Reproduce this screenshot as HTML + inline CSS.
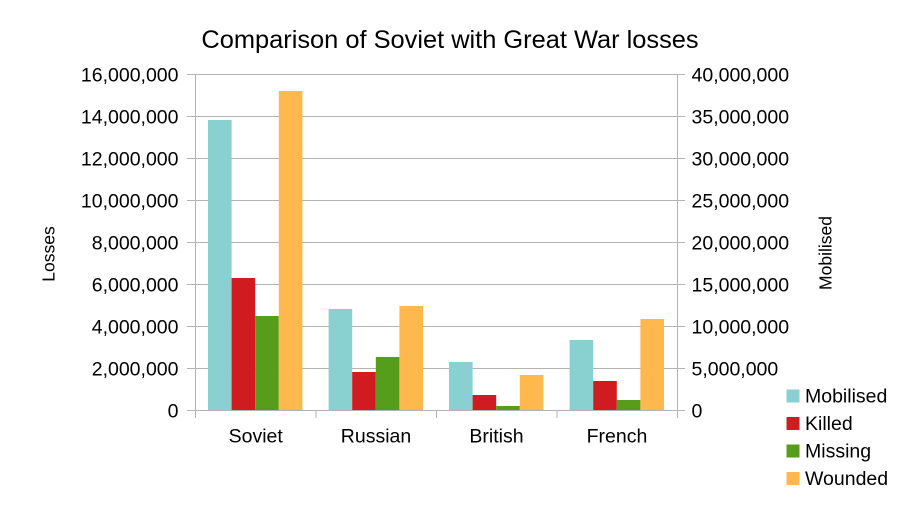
<!DOCTYPE html>
<html>
<head>
<meta charset="utf-8">
<style>
html,body{margin:0;padding:0;background:#fff;}
svg{display:block;}
text{font-family:"Liberation Sans",Arial,sans-serif;fill:#000;}
</style>
</head>
<body>
<svg width="907" height="510" viewBox="0 0 907 510" xmlns="http://www.w3.org/2000/svg">
<rect width="907" height="510" fill="#fff"/>
<text x="450" y="48" font-size="25.4" text-anchor="middle">Comparison of Soviet with Great War losses</text>

<!-- gridlines -->
<g stroke="#b3b3b3" stroke-width="1">
<line x1="187" y1="74.5" x2="685" y2="74.5"/>
<line x1="187" y1="116.5" x2="685" y2="116.5"/>
<line x1="187" y1="158.5" x2="685" y2="158.5"/>
<line x1="187" y1="200.5" x2="685" y2="200.5"/>
<line x1="187" y1="242.5" x2="685" y2="242.5"/>
<line x1="187" y1="284.5" x2="685" y2="284.5"/>
<line x1="187" y1="326.5" x2="685" y2="326.5"/>
<line x1="187" y1="368.5" x2="685" y2="368.5"/>
<line x1="187" y1="410.5" x2="685" y2="410.5"/>
<line x1="195.5" y1="74" x2="195.5" y2="418"/>
<line x1="677.5" y1="74" x2="677.5" y2="418"/>
<line x1="316" y1="410" x2="316" y2="418"/>
<line x1="436.5" y1="410" x2="436.5" y2="418"/>
<line x1="557" y1="410" x2="557" y2="418"/>
</g>

<!-- bars -->
<g>
<rect x="208" y="120" width="23.6" height="290" fill="#89d0d0"/>
<rect x="231.6" y="278" width="23.6" height="132" fill="#d01b20"/>
<rect x="255.2" y="316" width="23.6" height="94" fill="#579d1c"/>
<rect x="278.8" y="91" width="23.6" height="319" fill="#ffb84d"/>

<rect x="328.6" y="309" width="23.6" height="101" fill="#89d0d0"/>
<rect x="352.2" y="372" width="23.6" height="38" fill="#d01b20"/>
<rect x="375.8" y="357" width="23.6" height="53" fill="#579d1c"/>
<rect x="399.4" y="306" width="23.6" height="104" fill="#ffb84d"/>

<rect x="449" y="362" width="23.6" height="48" fill="#89d0d0"/>
<rect x="472.6" y="395" width="23.6" height="15" fill="#d01b20"/>
<rect x="496.2" y="406" width="23.6" height="4" fill="#579d1c"/>
<rect x="519.8" y="375" width="23.6" height="35" fill="#ffb84d"/>

<rect x="569.6" y="340" width="23.6" height="70" fill="#89d0d0"/>
<rect x="593.2" y="381" width="23.6" height="29" fill="#d01b20"/>
<rect x="616.8" y="400" width="23.6" height="10" fill="#579d1c"/>
<rect x="640.4" y="319" width="23.6" height="91" fill="#ffb84d"/>
</g>

<!-- left axis labels -->
<g font-size="19.5" text-anchor="end">
<text x="178.5" y="81.5">16,000,000</text>
<text x="178.5" y="123.5">14,000,000</text>
<text x="178.5" y="165.5">12,000,000</text>
<text x="178.5" y="207.5">10,000,000</text>
<text x="178.5" y="249.5">8,000,000</text>
<text x="178.5" y="291.5">6,000,000</text>
<text x="178.5" y="333.5">4,000,000</text>
<text x="178.5" y="375.5">2,000,000</text>
<text x="178.5" y="417.5">0</text>
</g>

<!-- right axis labels -->
<g font-size="19.5" text-anchor="start">
<text x="691.5" y="81.5">40,000,000</text>
<text x="691.5" y="123.5">35,000,000</text>
<text x="691.5" y="165.5">30,000,000</text>
<text x="691.5" y="207.5">25,000,000</text>
<text x="691.5" y="249.5">20,000,000</text>
<text x="691.5" y="291.5">15,000,000</text>
<text x="691.5" y="333.5">10,000,000</text>
<text x="691.5" y="375.5">5,000,000</text>
<text x="691.5" y="417.5">0</text>
</g>

<!-- category labels -->
<g font-size="19.5" text-anchor="middle">
<text x="255.7" y="442.5">Soviet</text>
<text x="376" y="442.5">Russian</text>
<text x="496.5" y="442.5">British</text>
<text x="617" y="442.5">French</text>
</g>

<!-- axis titles -->
<text transform="translate(54.5,254) rotate(-90)" font-size="17.5" text-anchor="middle">Losses</text>
<text transform="translate(831.5,253) rotate(-90)" font-size="17.5" text-anchor="middle">Mobilised</text>

<!-- legend -->
<g font-size="19.5">
<rect x="786.5" y="389.5" width="13" height="13" fill="#89d0d0"/>
<text x="805" y="402.5">Mobilised</text>
<rect x="786.5" y="417" width="13" height="13" fill="#d01b20"/>
<text x="805" y="430">Killed</text>
<rect x="786.5" y="444.5" width="13" height="13" fill="#579d1c"/>
<text x="805" y="457.5">Missing</text>
<rect x="786.5" y="472" width="13" height="13" fill="#ffb84d"/>
<text x="805" y="485">Wounded</text>
</g>
</svg>
</body>
</html>
